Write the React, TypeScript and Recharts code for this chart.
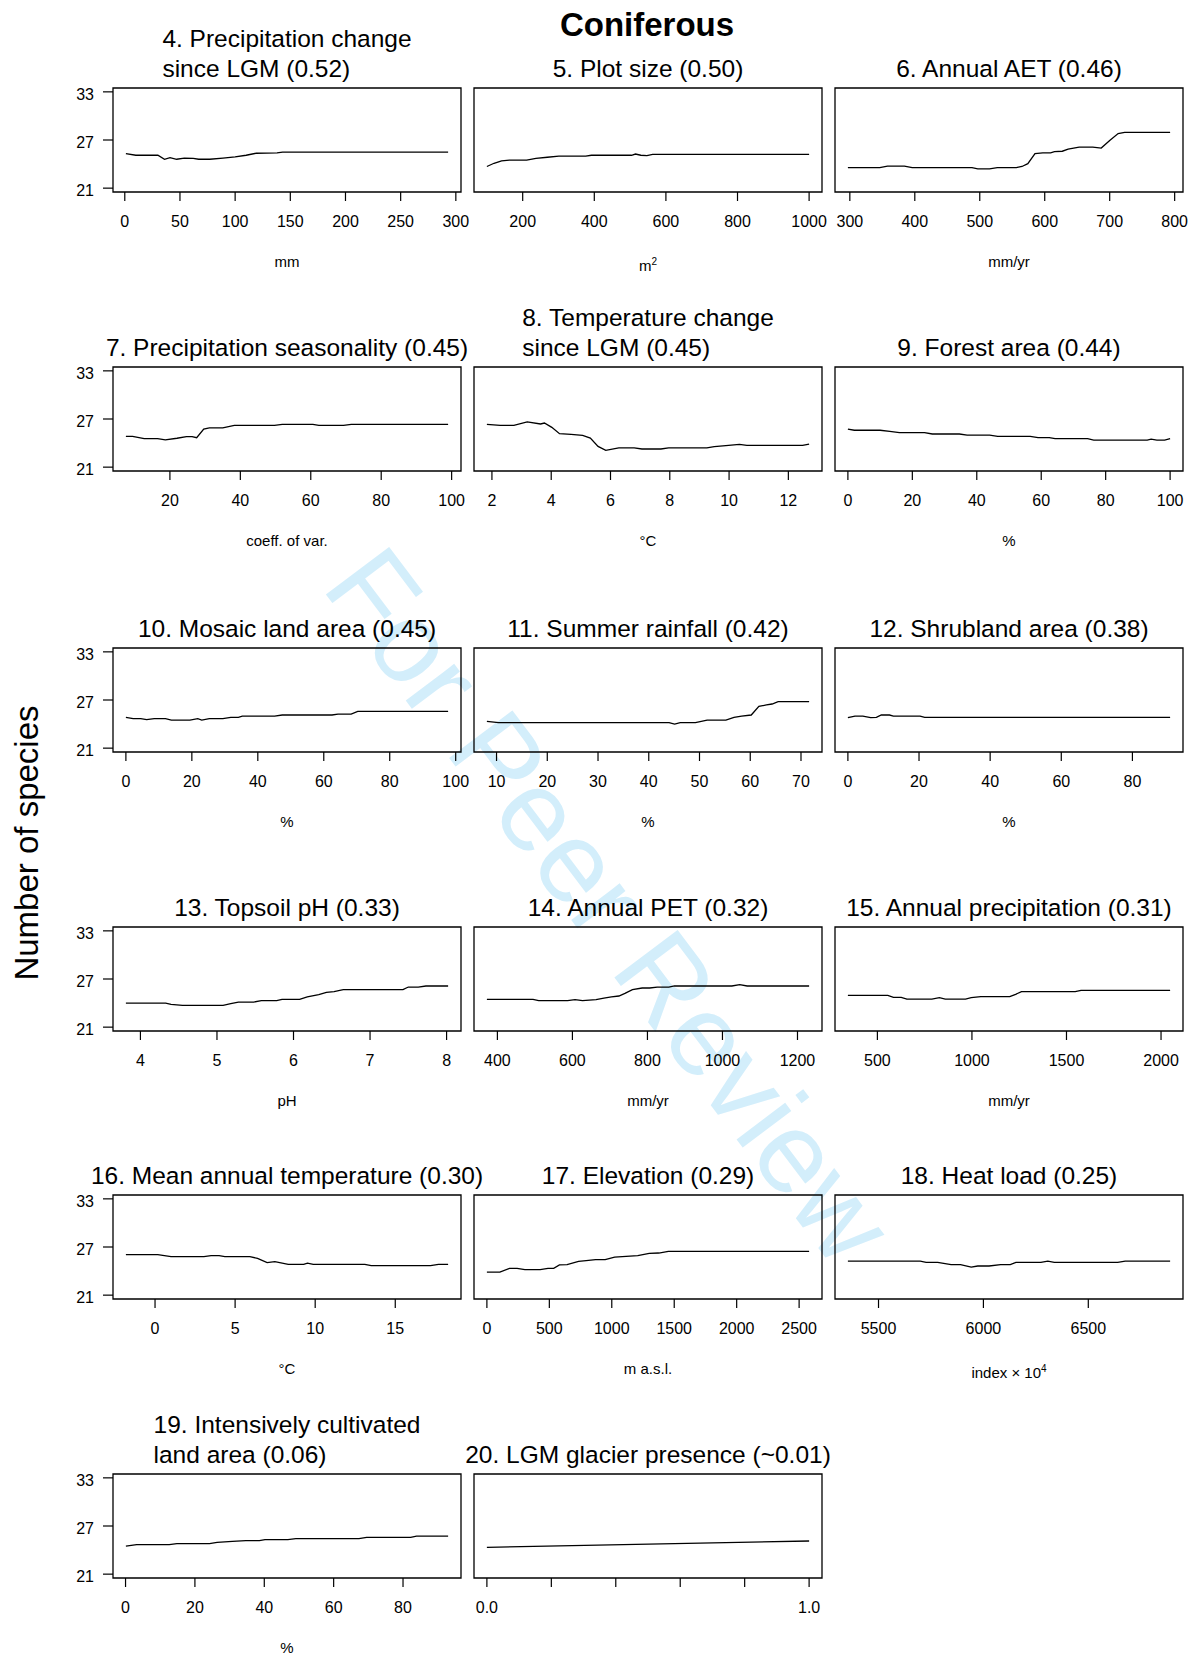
import React from 'react';
import { LineChart, Line, XAxis, YAxis, ReferenceArea } from 'recharts';

const FONT = '"Liberation Sans", Arial, Helvetica, sans-serif';

// shared y axis: number of species
const speciesTicks = [21, 27, 33];
const speciesDomain = [20.52, 33.48];

// 4. Precipitation change since LGM (mm)
const precipChangeX = [1, 10, 20, 30, 36, 41, 47, 54, 62, 67, 77, 89, 100, 110, 119, 138, 143, 200, 250, 293];
const precipChangeY = [25.3, 25.1, 25.1, 25.1, 24.6, 24.8, 24.6, 24.75, 24.7, 24.6, 24.6, 24.75, 24.9, 25.1, 25.35, 25.4, 25.5, 25.5, 25.5, 25.5];
const precipChangeTicks = [0, 50, 100, 150, 200, 250, 300];

// 5. Plot size (m2)
const plotSizeX = [100, 120, 141, 163, 211, 237, 269, 301, 376, 392, 504, 515, 530, 547, 563, 700, 850, 1000];
const plotSizeY = [23.7, 24.1, 24.4, 24.5, 24.5, 24.7, 24.85, 25.0, 25.0, 25.1, 25.1, 25.25, 25.1, 25.05, 25.2, 25.2, 25.2, 25.2];
const plotSizeTicks = [200, 400, 600, 800, 1000];

// 6. Annual AET (mm/yr)
const aetX = [297, 346, 358, 384, 396, 488, 497, 515, 527, 556, 565, 574, 585, 597, 609, 615, 627, 636, 653, 674, 687, 700, 713, 723, 793];
const aetY = [23.55, 23.55, 23.75, 23.75, 23.55, 23.55, 23.4, 23.4, 23.55, 23.55, 23.7, 24.05, 25.3, 25.4, 25.4, 25.55, 25.6, 25.85, 26.1, 26.1, 26.0, 26.95, 27.8, 27.95, 27.95];
const aetTicks = [300, 400, 500, 600, 700, 800];

// 7. Precipitation seasonality (coeff. of var.)
const seasonalityX = [7.5, 9.4, 12.7, 16.5, 18.7, 22, 24.7, 26.3, 27.6, 29.6, 31.2, 35, 38.3, 49.7, 51.9, 60.6, 62.3, 69.3, 71.5, 99];
const seasonalityY = [24.84, 24.84, 24.55, 24.55, 24.4, 24.6, 24.8, 24.8, 24.67, 25.75, 25.9, 25.9, 26.2, 26.2, 26.33, 26.33, 26.2, 26.2, 26.33, 26.33];
const seasonalityTicks = [20, 40, 60, 80, 100];

// 8. Temperature change since LGM (°C)
const tempChangeX = [1.83, 2.28, 2.74, 3.19, 3.64, 3.77, 4.02, 4.28, 4.67, 5.06, 5.32, 5.58, 5.84, 6.28, 6.8, 7.06, 7.7, 7.96, 9.25, 9.5, 9.89, 10.35, 10.6, 12.48, 12.7];
const tempChangeY = [26.33, 26.2, 26.2, 26.63, 26.38, 26.5, 25.96, 25.17, 25.09, 24.96, 24.63, 23.59, 23.1, 23.39, 23.39, 23.26, 23.26, 23.39, 23.39, 23.55, 23.68, 23.84, 23.72, 23.72, 23.88];
const tempChangeTicks = [2, 4, 6, 8, 10, 12];

// 9. Forest area (%)
const forestX = [0, 2, 10, 13, 16, 23.8, 26.2, 34.6, 37, 44, 46.5, 56.6, 59, 62.5, 64.3, 74.4, 76.3, 92.9, 94.1, 95.9, 98.3, 100];
const forestY = [25.75, 25.6, 25.6, 25.46, 25.3, 25.3, 25.13, 25.13, 25.0, 25.0, 24.84, 24.84, 24.67, 24.67, 24.55, 24.55, 24.38, 24.38, 24.5, 24.38, 24.38, 24.55];
const forestTicks = [0, 20, 40, 60, 80, 100];

// 10. Mosaic land area (%)
const mosaicX = [0, 2.2, 4.5, 6.3, 8.6, 12, 13.8, 19.4, 21.8, 23, 25.3, 29.4, 31.8, 34.1, 35.3, 45.1, 47.4, 62.5, 64.3, 68.3, 70.3, 97.7];
const mosaicY = [24.84, 24.67, 24.67, 24.55, 24.67, 24.67, 24.5, 24.5, 24.67, 24.5, 24.67, 24.67, 24.84, 24.84, 25.0, 25.0, 25.13, 25.13, 25.25, 25.25, 25.59, 25.59];
const mosaicTicks = [0, 20, 40, 60, 80, 100];

// 11. Summer rainfall (%)
const summerX = [8.1, 10.4, 44, 45.1, 46.2, 49.2, 51.5, 55.2, 56.8, 58.3, 60.2, 61.7, 63.2, 64.3, 65.5, 71.6];
const summerY = [24.34, 24.17, 24.17, 24.0, 24.17, 24.17, 24.5, 24.5, 24.84, 25.0, 25.13, 26.2, 26.38, 26.5, 26.8, 26.8];
const summerTicks = [10, 20, 30, 40, 50, 60, 70];

// 12. Shrubland area (%)
const shrubX = [0, 2, 4.2, 6.4, 8, 9.4, 11.7, 12.8, 20.3, 21.6, 90.6];
const shrubY = [24.8, 25.0, 25.0, 24.8, 24.84, 25.13, 25.13, 25.0, 25.0, 24.84, 24.84];
const shrubTicks = [0, 20, 40, 60, 80];

// 13. Topsoil pH
const phX = [3.81, 4.33, 4.4, 4.55, 5.08, 5.18, 5.28, 5.48, 5.58, 5.78, 5.85, 6.08, 6.18, 6.33, 6.43, 6.53, 6.65, 7.43, 7.5, 7.63, 7.73, 8.02];
const phY = [24.0, 24.0, 23.84, 23.72, 23.72, 23.93, 24.13, 24.13, 24.3, 24.3, 24.47, 24.47, 24.76, 25.05, 25.34, 25.42, 25.67, 25.67, 26.0, 26.0, 26.13, 26.13];
const phTicks = [4, 5, 6, 7, 8];

// 14. Annual PET (mm/yr)
const petX = [372, 495, 510, 587, 607, 627, 663, 684, 704, 724, 740, 760, 786, 806, 826, 857, 872, 1025, 1046, 1066, 1231];
const petY = [24.47, 24.47, 24.3, 24.3, 24.42, 24.3, 24.42, 24.63, 24.76, 24.88, 25.2, 25.67, 25.88, 25.88, 26.0, 26.0, 26.13, 26.13, 26.3, 26.13, 26.13];
const petTicks = [400, 600, 800, 1000, 1200];

// 15. Annual precipitation (mm/yr)
const precipX = [344, 555, 585, 626, 656, 788, 828, 859, 966, 996, 1047, 1200, 1231, 1262, 1546, 1577, 2048];
const precipY = [24.96, 24.96, 24.71, 24.71, 24.5, 24.5, 24.67, 24.5, 24.5, 24.67, 24.8, 24.8, 25.09, 25.42, 25.42, 25.59, 25.59];
const precipTicks = [500, 1000, 1500, 2000];

// 16. Mean annual temperature (°C)
const matX = [-1.82, 0.17, 1.0, 3.05, 3.5, 4.0, 4.36, 5.92, 6.4, 7.0, 7.48, 8.32, 9.28, 9.52, 9.88, 13.1, 13.5, 17.2, 17.7, 18.3];
const matY = [26.04, 26.04, 25.8, 25.8, 25.92, 25.92, 25.8, 25.8, 25.59, 25.05, 25.17, 24.84, 24.84, 25.0, 24.84, 24.84, 24.67, 24.67, 24.84, 24.84];
const matTicks = [0, 5, 10, 15];

// 17. Elevation (m a.s.l.)
const elevX = [0, 104, 181, 242, 304, 427, 489, 535, 581, 642, 734, 795, 870, 947, 1023, 1115, 1208, 1300, 1376, 1453, 2580];
const elevY = [23.88, 23.88, 24.34, 24.34, 24.17, 24.17, 24.34, 24.34, 24.76, 24.8, 25.21, 25.3, 25.42, 25.42, 25.75, 25.84, 25.92, 26.21, 26.25, 26.46, 26.46];
const elevTicks = [0, 500, 1000, 1500, 2000, 2500];

// 18. Heat load (index x 10^4)
const heatX = [5354, 5699, 5727, 5782, 5846, 5891, 5942, 5973, 6027, 6082, 6128, 6155, 6274, 6307, 6338, 6640, 6676, 6890];
const heatY = [25.25, 25.25, 25.09, 25.09, 24.8, 24.8, 24.5, 24.63, 24.63, 24.8, 24.8, 25.09, 25.09, 25.25, 25.09, 25.09, 25.25, 25.25];
const heatTicks = [5500, 6000, 6500];

// 19. Intensively cultivated land area (%)
const cultX = [0.1, 3.2, 12.6, 14.8, 24.2, 26.4, 30.8, 34.7, 38.6, 40.2, 46.8, 49.1, 67.3, 69.5, 82.2, 83.9, 93];
const cultY = [24.5, 24.67, 24.67, 24.8, 24.8, 24.96, 25.09, 25.17, 25.17, 25.3, 25.3, 25.42, 25.42, 25.59, 25.59, 25.75, 25.75];
const cultTicks = [0, 20, 40, 60, 80];

// 20. LGM glacier presence
const glacierX = [0, 1];
const glacierY = [24.34, 25.13];
const glacierTicks = [0, 0.2, 0.4, 0.6, 0.8, 1.0];

const panels = [
  { title: ['4. Precipitation change', 'since LGM (0.52)'], unit: 'mm', xs: precipChangeX, ys: precipChangeY, ticks: precipChangeTicks },
  { title: ['5. Plot size (0.50)'], unit: 'm', sup: '2', xs: plotSizeX, ys: plotSizeY, ticks: plotSizeTicks },
  { title: ['6. Annual AET (0.46)'], unit: 'mm/yr', xs: aetX, ys: aetY, ticks: aetTicks },
  { title: ['7. Precipitation seasonality (0.45)'], unit: 'coeff. of var.', xs: seasonalityX, ys: seasonalityY, ticks: seasonalityTicks },
  { title: ['8. Temperature change', 'since LGM (0.45)'], unit: '°C', xs: tempChangeX, ys: tempChangeY, ticks: tempChangeTicks },
  { title: ['9. Forest area (0.44)'], unit: '%', xs: forestX, ys: forestY, ticks: forestTicks },
  { title: ['10. Mosaic land area (0.45)'], unit: '%', xs: mosaicX, ys: mosaicY, ticks: mosaicTicks },
  { title: ['11. Summer rainfall (0.42)'], unit: '%', xs: summerX, ys: summerY, ticks: summerTicks },
  { title: ['12. Shrubland area (0.38)'], unit: '%', xs: shrubX, ys: shrubY, ticks: shrubTicks },
  { title: ['13. Topsoil pH (0.33)'], unit: 'pH', xs: phX, ys: phY, ticks: phTicks },
  { title: ['14. Annual PET (0.32)'], unit: 'mm/yr', xs: petX, ys: petY, ticks: petTicks },
  { title: ['15. Annual precipitation (0.31)'], unit: 'mm/yr', xs: precipX, ys: precipY, ticks: precipTicks },
  { title: ['16. Mean annual temperature (0.30)'], unit: '°C', xs: matX, ys: matY, ticks: matTicks },
  { title: ['17. Elevation (0.29)'], unit: 'm a.s.l.', xs: elevX, ys: elevY, ticks: elevTicks },
  { title: ['18. Heat load (0.25)'], unit: 'index × 10', sup: '4', xs: heatX, ys: heatY, ticks: heatTicks },
  { title: ['19. Intensively cultivated', 'land area (0.06)'], unit: '%', xs: cultX, ys: cultY, ticks: cultTicks },
  {
    title: ['20. LGM glacier presence (~0.01)'], unit: '', xs: glacierX, ys: glacierY, ticks: glacierTicks,
    fmt: (v: number) => (v === 0 || v === 1 ? v.toFixed(1) : ''),
  },
];

// layout
const COL_LEFT = [113, 474, 835];
const ROW_TOP = [88, 367, 648, 927, 1195, 1474];
const BOX_W = 348;
const BOX_H = 104;
const AXIS_W = 60;
const X_AXIS_H = 44;
const PAD_TOP = 12;
const PAD_RIGHT = 24;

const tickStyle = { fill: '#000', fontSize: 16, fontFamily: FONT };

const Panel = ({ p, idx }: { p: any; idx: number }) => {
  const row = Math.floor(idx / 3);
  const col = idx % 3;
  const left = COL_LEFT[col];
  const top = ROW_TOP[row];
  const data = p.xs.map((x: number, i: number) => ({ x, y: p.ys[i] }));
  const lo = Math.min(...p.xs);
  const hi = Math.max(...p.xs);
  const pad = (hi - lo) * 0.04;
  const domain = [lo - pad, hi + pad];

  return (
    <>
      <div
        style={{
          position: 'absolute',
          left: left + BOX_W / 2,
          top: top - 4 - 30 * p.title.length,
          transform: 'translateX(-50%)',
          fontSize: 24.5,
          lineHeight: '30px',
          whiteSpace: 'nowrap',
          textAlign: 'left',
          fontFamily: FONT,
        }}
      >
        {p.title.map((t: string) => (
          <div key={t}>{t}</div>
        ))}
      </div>
      <div style={{ position: 'absolute', left: left - AXIS_W, top: top - PAD_TOP }}>
        <LineChart
          width={AXIS_W + BOX_W + PAD_RIGHT}
          height={PAD_TOP + BOX_H + X_AXIS_H + 2}
          data={data}
          margin={{ top: PAD_TOP, right: PAD_RIGHT, bottom: 2, left: col === 0 ? 0 : AXIS_W }}
        >
          <XAxis
            dataKey="x"
            type="number"
            domain={domain}
            ticks={p.ticks}
            interval={0}
            allowDataOverflow
            axisLine={false}
            tickSize={9}
            tickMargin={15}
            tickLine={{ stroke: '#000', strokeWidth: 1.2 }}
            tick={tickStyle}
            tickFormatter={p.fmt}
            height={X_AXIS_H}
          />
          <YAxis
            type="number"
            domain={speciesDomain}
            ticks={speciesTicks}
            interval={0}
            allowDataOverflow
            hide={col !== 0}
            width={AXIS_W}
            axisLine={false}
            tickSize={10}
            tickMargin={9}
            tickLine={{ stroke: '#000', strokeWidth: 1.2 }}
            tick={{ ...tickStyle, dy: 2 }}
          />
          <ReferenceArea
            x1={domain[0]}
            x2={domain[1]}
            y1={speciesDomain[0]}
            y2={speciesDomain[1]}
            fill="none"
            fillOpacity={0}
            stroke="#000"
            strokeWidth={1.3}
          />
          <Line dataKey="y" type="linear" stroke="#000" strokeWidth={1.3} dot={false} isAnimationActive={false} />
        </LineChart>
      </div>
      {p.unit && (
        <div
          style={{
            position: 'absolute',
            left: left + BOX_W / 2,
            top: top + BOX_H + 60,
            transform: 'translateX(-50%)',
            fontSize: 15,
            lineHeight: '20px',
            whiteSpace: 'nowrap',
            fontFamily: FONT,
          }}
        >
          {p.unit}
          {p.sup && <sup style={{ fontSize: 10 }}>{p.sup}</sup>}
        </div>
      )}
    </>
  );
};

export default function App() {
  return (
    <div style={{ position: 'absolute', left: 0, top: 0, width: 1195, height: 1654, background: '#fff', fontFamily: FONT }}>
      <svg width={1195} height={1654} style={{ position: 'absolute', left: 0, top: 0 }}>
        <text
          x={610}
          y={905}
          transform="rotate(53 610 905)"
          textAnchor="middle"
          dominantBaseline="central"
          fontSize={115}
          fontFamily={FONT}
          fill="#d3eefb"
        >
          For Peer Review
        </text>
        <text x={647} y={36} textAnchor="middle" fontSize={33} fontWeight="bold" fontFamily={FONT} fill="#000">
          Coniferous
        </text>
        <text
          x={38}
          y={843}
          transform="rotate(-90 38 843)"
          textAnchor="middle"
          fontSize={33}
          fontFamily={FONT}
          fill="#000"
        >
          Number of species
        </text>
      </svg>
      {panels.map((p, i) => (
        <Panel key={i} p={p} idx={i} />
      ))}
    </div>
  );
}
